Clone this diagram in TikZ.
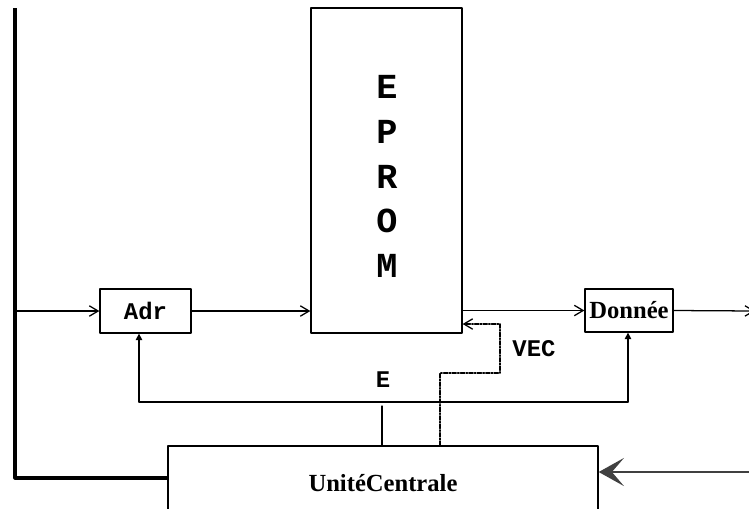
\documentclass[tikz,border=0pt]{standalone}
\usepackage{fontspec}
\setmainfont{Liberation Serif}
\setmonofont{Liberation Mono}
\usetikzlibrary{arrows.meta,positioning}
\tikzset{
  >={Straight Barb[length=2.2mm,width=2.6mm]},
  every picture/.style={line cap=round, line join=round},
  box/.style={draw, line width=0.9pt, inner sep=0pt, align=center},
  ttlbl/.style={font=\fontsize{17}{20}\selectfont\ttfamily\bfseries},
  biglbl/.style={font=\fontsize{25}{28}\selectfont\ttfamily\bfseries},
  rmlbl/.style={font=\fontsize{17.5}{21}\selectfont\bfseries},
  arr/.style={->, line width=0.9pt},
  triarr/.style={-{Triangle[length=1.6mm,width=1.6mm]}, line width=0.9pt},
  wire/.style={line width=0.9pt},
  thickwire/.style={line width=2.2pt, line cap=butt},
  vecarr/.style={->, line width=0.9pt, dash pattern=on 3pt off 1pt on 1pt off 1pt},
  bigarr/.style={-{Stealth[length=6.3mm,width=7mm,inset=3mm]}, draw=black!75, line width=1.8pt},
}
\begin{document}
\begin{tikzpicture}[x=0.025cm, y=-0.025cm]
  \useasboundingbox (0,0) rectangle (749,508);
  % ---------------- blocks ----------------
  \node[box, minimum width=3.775cm, minimum height=8.125cm] (eprom) at (386.5,170.5) {};
  \foreach \l [count=\i from 0] in {E,P,R,O,M}
    \node[biglbl] (ep\i) at (387,87+44.75*\i) {\l};
  \node[box, ttlbl, minimum width=2.275cm, minimum height=1.1cm] (adr) at (145.5,311) {Adr};
  \node[box, rmlbl, minimum width=2.2cm, minimum height=1.075cm] (donnee) at (629,310.5) {Donnée};
  \node[box, rmlbl, minimum width=10.75cm, minimum height=1.85cm] (uc) at (383,483) {UnitéCentrale};

  % ---------------- left bus ----------------
  \coordinate (topl) at (15,8);
  \coordinate (botl) at (15,478);
  \draw[thickwire] (topl) -- (botl) -- (botl -| uc.west);
  \draw[arr] (topl |- adr.west) -- (adr.west);
  \draw[arr] (adr.east) -- (adr.east -| eprom.west);
  \draw[arr] (eprom.east |- donnee.west) -- (donnee.west);
  \coordinate (outr) at (755,311);
  \draw[arr] (donnee.east) -- (outr);

  % ---------------- control bus E ----------------
  \coordinate (busl) at (139,402);
  \coordinate (busr) at (628,402);
  \draw[wire] (busl) -- (busr);
  \draw[triarr] (busl) -- (busl |- adr.south);
  \draw[triarr] (busr) -- (busr |- donnee.south);
  \coordinate (ebus) at (382,406);
  \draw[wire] (ebus) -- (ebus |- uc.north);
  \node[ttlbl] (elbl) at (383,380) {E};

  % ---------------- VEC ----------------
  \coordinate (v1) at (440,373);
  \coordinate (v2) at (500,373);
  \coordinate (v3) at (500,324);
  \draw[vecarr] (v1 |- uc.north) -- (v1) -- (v2) -- (v3) -- (v3 -| eprom.east);
  \node[ttlbl] (veclbl) at (534,349) {VEC};

  % ---------------- input to UC ----------------
  \coordinate (inr) at (749,472);
  \draw[bigarr] (inr) -- (inr -| uc.east);
\end{tikzpicture}
\end{document}
